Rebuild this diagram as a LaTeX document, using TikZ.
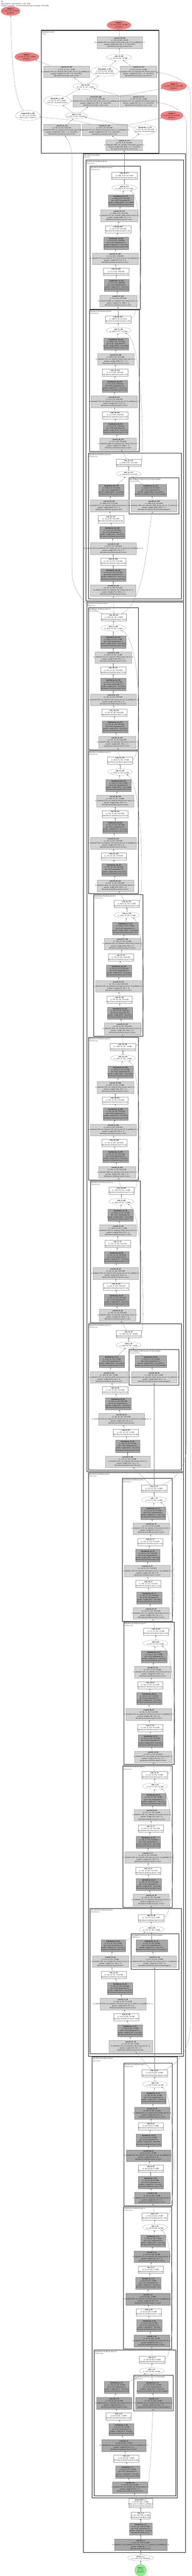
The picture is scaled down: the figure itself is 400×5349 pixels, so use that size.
\documentclass[tikz,border=0pt]{standalone}
\usepackage{fontspec}
\setmainfont{Liberation Serif}
\usetikzlibrary{shapes.geometric,arrows.meta}
\definecolor{cvfill}{HTML}{D3D3D3}
\definecolor{cvdraw}{HTML}{B0B0B0}
\definecolor{bnfill}{HTML}{A9A9A9}
\definecolor{bndraw}{HTML}{8A8A8A}
\definecolor{rldraw}{HTML}{A0A0A0}
\definecolor{edgecol}{HTML}{8A8A8A}
\definecolor{outfill}{HTML}{F08080}
\definecolor{outdraw}{HTML}{D06868}
\definecolor{infill}{HTML}{90EE90}
\definecolor{indraw}{HTML}{60B060}
\definecolor{subcol}{HTML}{505050}
\newcommand\fs{\fontsize{3.6pt}{4.33pt}\selectfont}
\newcommand\T[1]{\makebox[0pt]{\begin{tabular}{@{}c@{}}#1\end{tabular}}}
\newcommand\bb{dim.detector.backbone.}
\newcommand\nk{dim.detector.neck.}
\newcommand\ZA{(1, 2048, 8, 8): 512.0 KB}
\newcommand\ZB{(1, 512, 8, 8): 128.0 KB}
\newcommand\ZC{(1, 512, 16, 16): 512.0 KB}
\newcommand\ZD{(1, 1024, 16, 16): 1.0 MB}
\newcommand\ZE{(1, 256, 16, 16): 256.0 KB}
\newcommand\ZF{(1, 256, 32, 32): 1.0 MB}
\newcommand\ZG{(1, 512, 32, 32): 2.0 MB}
\newcommand\ZH{(1, 128, 32, 32): 512.0 KB}
\newcommand\ZI{(1, 128, 64, 64): 2.0 MB}
\newcommand\ZJ{(1, 256, 64, 64): 4.0 MB}
\newcommand\ZK{(1, 64, 64, 64): 1.0 MB}
\newcommand\ZL{(1, 64, 128, 128): 4.0 MB}
\newcommand\ZM{(1, 256, 8, 8): 64.0 KB}
\newcommand\ZN{(1, 256, 4, 4): 16.0 KB}
\newcommand\KA[2]{in\_channels=#1, out\_channels=#2, kernel\_size=(1, 1)}
\newcommand\KB[2]{in\_channels=#1, out\_channels=#2, kernel\_size=(3, 3), padding=(1, 1)}
\newcommand\KC[2]{in\_channels=#1, out\_channels=#2, kernel\_size=(3, 3), stride=(2, 2), padding=(1, 1)}
\newcommand\KD[2]{in\_channels=#1, out\_channels=#2, kernel\_size=(1, 1), stride=(2, 2)}
\newcommand\CV[9]{\node[cvs,minimum width=#4pt] (#1) at (#2,#3) {\T{\textbf{#5}\\#6\\#7\\params: weight #8\\#9}};}
\newcommand\BN[8]{\node[bnbox,minimum width=#4pt] (#1) at (#2,#3) {\T{\textbf{#5}\\#6\\eps=1e-05, momentum=0.1\\params: weight (#7,) · bias (#7,)\\#8}};}
\newcommand\RL[6]{\node[relubox] (#1) at (#2,#3) {\T{\textbf{#4}\\#5\\#6}};}
\newcommand\AD[5]{\node[addell] (#1) at (#2,#3) {\T{\textbf{#4}\\#5}};}
\newcommand\CL[8]{\draw[#2] (#3,#4) rectangle (#5,#6); \node[cllab] (#1) at (#3,#4) {\begin{tabular}{@{}l@{}}#7\\\textcolor{subcol}{(#8)}\end{tabular}};}
\newcommand\CH[1]{\draw[edge] (#1c1)--(#1b1); \draw[edge] (#1b1)--(#1r1); \draw[edge] (#1r1)--(#1c2); \draw[edge] (#1c2)--(#1b2); \draw[edge] (#1b2)--(#1r2); \draw[edge] (#1r2)--(#1c3); \draw[edge] (#1c3)--(#1b3); \draw[edge] (#1b3)--(#1ad); \draw[edge] (#1ad)--(#1o);}
\newcommand\SK[5]{\draw[edge] (#1) .. controls (#3,#4) and (#3,#5) .. (#2);}
\tikzset{
  nb/.style={rectangle,inner sep=0pt,line width=0.4pt},
  cvl/.style={nb,fill=cvfill,draw=cvdraw,minimum height=24pt},
  cvd/.style={nb,fill=bnfill,draw=bndraw,minimum height=24pt},
  cvs/.style={cvl},
  bnbox/.style={nb,fill=bnfill,draw=bndraw,minimum height=25pt},
  relubox/.style={nb,fill=white,draw=rldraw,minimum width=53pt,minimum height=15pt},
  addell/.style={ellipse,inner sep=0pt,line width=0.4pt,fill=white,draw=rldraw,minimum width=52pt,minimum height=13pt},
  outell/.style={ellipse,inner sep=0pt,line width=0.4pt,fill=outfill,draw=outdraw},
  edge/.style={draw=edgecol,line width=0.35pt,-{Stealth[length=2.5pt,width=2pt,color=black!70]}},
  clA/.style={draw=black!85,line width=1.3pt},
  clB/.style={draw=black!85,line width=1.0pt},
  clC/.style={draw=black!85,line width=0.75pt},
  clD/.style={draw=black!80,line width=0.6pt},
  cllab/.style={anchor=north west,inner sep=1.2pt,font=\fs},
}
\begin{document}
\begin{tikzpicture}[x=1pt,y=-1pt,every node/.style={font=\fs}]
\fill[white] (0,0) rectangle (400,5349);
\useasboundingbox (0,0) rectangle (400,5349);
\node[anchor=north west,inner sep=0pt] (hdr) at (3,1.5) {\begin{tabular}{@{}l@{}}\textbf{fx}\\dim\_detector: torch.Size([1, 3, 256, 256])\\26,843,712 params · 12.3 GFLOPs (forward, eval mode, 192.4 MB)\end{tabular}};
% ---------- clusters ----------
\CL{clN}{clA}{86}{63}{331}{318}{dim.detector.neck}{FPN}
\CL{clBB}{clA}{174}{319}{387}{5300}{dim.detector.backbone}{ResNet}
\CL{clL4}{clB}{179}{332}{382}{1248}{dim.detector.backbone.layer4}{ResLayer}
\CL{clLxlii}{clC}{188}{345}{292}{642}{dim.detector.backbone.layer4.2}{Bottleneck}
\CL{clLxli}{clC}{186}{643.5}{290}{938}{dim.detector.backbone.layer4.1}{Bottleneck}
\CL{clLxl}{clC}{184}{941}{378}{1243}{dim.detector.backbone.layer4.0}{Bottleneck}
\CL{clLxld}{clD}{269}{992}{373}{1067}{dim.detector.backbone.layer4.0.downsample}{Sequential}
\CL{clL3}{clB}{181}{1249.5}{382}{3056}{dim.detector.backbone.layer3}{ResLayer}
\CL{clLxxxv}{clC}{184}{1262}{288}{1557}{dim.detector.backbone.layer3.5}{Bottleneck}
\CL{clLxxxiv}{clC}{184}{1559}{288}{1855}{dim.detector.backbone.layer3.4}{Bottleneck}
\CL{clLxxxiii}{clC}{195}{1857}{298}{2152}{dim.detector.backbone.layer3.3}{Bottleneck}
\CL{clLxxxii}{clC}{184}{2154}{288}{2450}{dim.detector.backbone.layer3.2}{Bottleneck}
\CL{clLxxxi}{clC}{189}{2452}{292}{2747}{dim.detector.backbone.layer3.1}{Bottleneck}
\CL{clLxxx}{clC}{184}{2749}{378}{3052}{dim.detector.backbone.layer3.0}{Bottleneck}
\CL{clLxxxd}{clD}{269}{2802}{373}{2876}{dim.detector.backbone.layer3.0.downsample}{Sequential}
\CL{clL2}{clB}{184}{3058}{382}{4270}{dim.detector.backbone.layer2}{ResLayer}
\CL{clLxxiii}{clC}{255}{3070}{359}{3367}{dim.detector.backbone.layer2.3}{Bottleneck}
\CL{clLxxii}{clC}{258}{3368.5}{363}{3663}{dim.detector.backbone.layer2.2}{Bottleneck}
\CL{clLxxi}{clC}{256}{3666}{359}{3961}{dim.detector.backbone.layer2.1}{Bottleneck}
\CL{clLxx}{clC}{188}{3963}{378}{4265}{dim.detector.backbone.layer2.0}{Bottleneck}
\CL{clLxxd}{clD}{273}{4015}{373}{4089}{dim.detector.backbone.layer2.0.downsample}{Sequential}
\CL{clL1}{clB}{192}{4271.5}{370}{5187}{dim.detector.backbone.layer1}{ResLayer}
\CL{clLxii}{clC}{258}{4284}{359}{4580}{dim.detector.backbone.layer1.2}{Bottleneck}
\CL{clLxi}{clC}{257}{4582}{358}{4878}{dim.detector.backbone.layer1.1}{Bottleneck}
\CL{clLx}{clC}{196}{4879.5}{366}{5182}{dim.detector.backbone.layer1.0}{Bottleneck}
\CL{clLxd}{clD}{278}{4932}{361}{5006}{dim.detector.backbone.layer1.0.downsample}{Sequential}
% ---------- neck ----------
\node[outell,minimum width=40pt,minimum height=18pt] (opv) at (22,23) {\T{\textbf{output\_5}\\\ZN\\@output 4}};
\node[outell,minimum width=50pt,minimum height=17pt] (opi) at (248,52) {\T{\textbf{output\_1}\\\ZJ\\@output 0}};
\node[outell,minimum width=50pt,minimum height=17pt] (opii) at (56,118) {\T{\textbf{output\_2}\\\ZF\\@output 1}};
\node[outell,minimum width=53pt,minimum height=19pt] (opiii) at (362,179) {\T{\textbf{output\_3}\\\ZE\\@output 2}};
\node[outell,minimum width=47pt,minimum height=19pt] (opiv) at (358,240) {\T{\textbf{output\_4}\\\ZM\\@output 3}};
\CV{cLVIII}{249.5}{88.5}{95}{conv2d\_58\_184}{\ZJ}{\KB{256}{256}}{(256, 256, 3, 3) · bias (256,)}{\nk fpn\_convs.0.conv}
\AD{aXIX}{248}{119}{add\_19\_183}{\ZJ}
\CV{cLIX}{138.5}{149}{95}{conv2d\_59\_185}{\ZF}{\KB{256}{256}}{(256, 256, 3, 3) · bias (256,)}{\nk fpn\_convs.1.conv}
\node[addell,minimum width=57pt,minimum height=21pt] (iIII) at (218,148) {\T{\textbf{interpolate\_3\_182}\\\ZJ\\size=(64, 64), mode=nearest}};
\CV{cLIV}{288.5}{149}{75}{conv2d\_54\_174}{\ZJ}{\KA{256}{256}}{(256, 256, 1, 1) · bias (256,)}{\nk lateral\_convs.0.conv}
\AD{aXVIII}{178}{179}{add\_18\_181}{\ZF}
\node[addell,minimum width=56pt,minimum height=21pt] (iII) at (119,209) {\T{\textbf{interpolate\_2\_180}\\\ZF\\size=(32, 32), mode=nearest}};
\CV{cLX}{199.5}{210}{95}{conv2d\_60\_186}{\ZE}{\KB{256}{256}}{(256, 256, 3, 3) · bias (256,)}{\nk fpn\_convs.2.conv}
\CV{cLV}{289}{210}{76}{conv2d\_55\_175}{\ZF}{\KA{512}{256}}{(256, 512, 1, 1) · bias (256,)}{\nk lateral\_convs.1.conv}
\node[addell,minimum width=51pt,minimum height=21pt] (mpii) at (58,240) {\T{\textbf{maxpool2d\_2\_188}\\\ZN\\kernel\_size=1, stride=2}};
\node[addell,minimum width=46pt,minimum height=13pt] (aXVII) at (159,240) {\T{\textbf{add\_17\_179}\\\ZE}};
\CV{cLVI}{129}{270}{76}{conv2d\_56\_176}{\ZE}{\KA{1024}{256}}{(256, 1024, 1, 1) · bias (256,)}{\nk lateral\_convs.2.conv}
\CV{cLXI}{218}{270}{94}{conv2d\_61\_187}{\ZM}{\KB{256}{256}}{(256, 256, 3, 3) · bias (256,)}{\nk fpn\_convs.3.conv}
\node[addell,minimum width=48pt,minimum height=21pt] (iI) at (302,269) {\T{\textbf{interpolate\_1\_178}\\\ZE\\size=(16, 16), mode=nearest}};
\node[cvl,minimum width=76pt,minimum height=23pt] (cLVII) at (259,301.5) {\T{\textbf{conv2d\_57\_177}\\\ZM\\\KA{2048}{256}\\params: weight (256, 2048, 1, 1) · bias (256,)\\\nk lateral\_convs.3.conv}};
% ---------- layer4.2 ----------
\RL{Lxliio}{259}{365}{relu\_49\_173}{\ZA}{\bb layer4.2.relu}
\AD{Lxliiad}{259}{390}{add\_16\_172}{\ZA}
\BN{Lxliib3}{252}{417}{52}{batchnorm\_53\_171}{\ZA}{2048}{\bb layer4.2.bn3}
\CV{Lxliic3}{248}{448}{77}{conv2d\_53\_170}{\ZA}{\KA{512}{2048}}{(2048, 512, 1, 1)}{\bb layer4.2.conv3}
\RL{Lxliir2}{246}{476}{relu\_48\_169}{\ZB}{\bb layer4.2.relu}
\BN{Lxliib2}{242}{505}{52}{batchnorm\_52\_168}{\ZB}{512}{\bb layer4.2.bn2}
\CV{Lxliic2}{240}{537}{95}{conv2d\_52\_167}{\ZB}{\KB{512}{512}}{(512, 512, 3, 3)}{\bb layer4.2.conv2}
\RL{Lxliir1}{242}{564}{relu\_47\_166}{\ZB}{\bb layer4.2.relu}
\BN{Lxliib1}{243}{592}{52}{batchnorm\_51\_165}{\ZB}{512}{\bb layer4.2.bn1}
\CV{Lxliic1}{246}{625}{77}{conv2d\_51\_164}{\ZB}{\KA{2048}{512}}{(512, 2048, 1, 1)}{\bb layer4.2.conv1}
% ---------- layer4.1 ----------
\RL{Lxlio}{246}{663}{relu\_46\_163}{\ZA}{\bb layer4.1.relu}
\AD{Lxliad}{247}{686}{add\_15\_162}{\ZA}
\BN{Lxlib3}{242}{714}{52}{batchnorm\_50\_161}{\ZA}{2048}{\bb layer4.1.bn3}
\CV{Lxlic3}{241}{746}{76}{conv2d\_50\_160}{\ZA}{\KA{512}{2048}}{(2048, 512, 1, 1)}{\bb layer4.1.conv3}
\RL{Lxlir2}{240}{774}{relu\_45\_159}{\ZB}{\bb layer4.1.relu}
\BN{Lxlib2}{239}{802}{52}{batchnorm\_49\_158}{\ZB}{512}{\bb layer4.1.bn2}
\CV{Lxlic2}{238}{834}{96}{conv2d\_49\_157}{\ZB}{\KB{512}{512}}{(512, 512, 3, 3)}{\bb layer4.1.conv2}
\RL{Lxlir1}{240}{862}{relu\_44\_156}{\ZB}{\bb layer4.1.relu}
\BN{Lxlib1}{241}{890}{52}{batchnorm\_48\_155}{\ZB}{512}{\bb layer4.1.bn1}
\CV{Lxlic1}{246}{922}{76}{conv2d\_48\_154}{\ZB}{\KA{2048}{512}}{(512, 2048, 1, 1)}{\bb layer4.1.conv1}
% ---------- layer4.0 ----------
\RL{Lxlo}{268}{961}{relu\_43\_153}{\ZA}{\bb layer4.0.relu}
\AD{Lxlad}{268}{984}{add\_14\_152}{\ZA}
\BN{Lxlb3}{232}{1018}{53}{batchnorm\_46\_149}{\ZA}{2048}{\bb layer4.0.bn3}
\BN{Lxldb}{314}{1018}{65}{batchnorm\_47\_151}{\ZA}{2048}{\bb layer4.0.downsample.1}
\CV{Lxlc3}{227}{1050}{77}{conv2d\_46\_148}{\ZA}{\KA{512}{2048}}{(2048, 512, 1, 1)}{\bb layer4.0.conv3}
\CV{Lxldc}{321}{1050}{95}{conv2d\_47\_150}{\ZA}{\KD{1024}{2048}}{(2048, 1024, 1, 1)}{\bb layer4.0.downsample.0}
\RL{Lxlr2}{231}{1078}{relu\_42\_147}{\ZB}{\bb layer4.0.relu}
\BN{Lxlb2}{234}{1106}{53}{batchnorm\_45\_146}{\ZB}{512}{\bb layer4.0.bn2}
\CV{Lxlc2}{236}{1139}{95}{conv2d\_45\_145}{\ZB}{\KC{512}{512}}{(512, 512, 3, 3)}{\bb layer4.0.conv2}
\RL{Lxlr1}{236}{1166}{relu\_41\_144}{\ZC}{\bb layer4.0.relu}
\BN{Lxlb1}{236}{1194}{52}{batchnorm\_44\_143}{\ZC}{512}{\bb layer4.0.bn1}
\CV{Lxlc1}{236}{1226}{94}{conv2d\_44\_142}{\ZC}{\KA{1024}{512}}{(512, 1024, 1, 1)}{\bb layer4.0.conv1}
% ---------- layer3.5 ----------
\RL{Lxxxvo}{237}{1282}{relu\_40\_141}{\ZD}{\bb layer3.5.relu}
\AD{Lxxxvad}{236}{1304}{add\_13\_140}{\ZD}
\BN{Lxxxvb3}{236}{1333}{53}{batchnorm\_43\_139}{\ZD}{1024}{\bb layer3.5.bn3}
\CV{Lxxxvc3}{236}{1365}{76}{conv2d\_43\_138}{\ZD}{\KA{256}{1024}}{(1024, 256, 1, 1)}{\bb layer3.5.conv3}
\RL{Lxxxvr2}{236}{1392}{relu\_39\_137}{\ZE}{\bb layer3.5.relu}
\BN{Lxxxvb2}{236}{1421}{52}{batchnorm\_42\_136}{\ZE}{256}{\bb layer3.5.bn2}
\CV{Lxxxvc2}{236}{1453}{95}{conv2d\_42\_135}{\ZE}{\KB{256}{256}}{(256, 256, 3, 3)}{\bb layer3.5.conv2}
\RL{Lxxxvr1}{238}{1480}{relu\_38\_134}{\ZE}{\bb layer3.5.relu}
\BN{Lxxxvb1}{240}{1509}{53}{batchnorm\_41\_133}{\ZE}{256}{\bb layer3.5.bn1}
\CV{Lxxxvc1}{244}{1541}{77}{conv2d\_41\_132}{\ZE}{\KA{1024}{256}}{(256, 1024, 1, 1)}{\bb layer3.5.conv1}
% ---------- layer3.4 ----------
\RL{Lxxxivo}{250}{1579}{relu\_37\_131}{\ZD}{\bb layer3.4.relu}
\AD{Lxxxivad}{250}{1603}{add\_12\_130}{\ZD}
\BN{Lxxxivb3}{247}{1631}{52}{batchnorm\_40\_129}{\ZD}{1024}{\bb layer3.4.bn3}
\CV{Lxxxivc3}{240}{1663}{77}{conv2d\_40\_128}{\ZD}{\KA{256}{1024}}{(1024, 256, 1, 1)}{\bb layer3.4.conv3}
\RL{Lxxxivr2}{240}{1690}{relu\_36\_127}{\ZE}{\bb layer3.4.relu}
\BN{Lxxxivb2}{240}{1718}{52}{batchnorm\_39\_126}{\ZE}{256}{\bb layer3.4.bn2}
\CV{Lxxxivc2}{236}{1751}{95}{conv2d\_39\_125}{\ZE}{\KB{256}{256}}{(256, 256, 3, 3)}{\bb layer3.4.conv2}
\RL{Lxxxivr1}{237}{1778}{relu\_35\_124}{\ZE}{\bb layer3.4.relu}
\BN{Lxxxivb1}{238}{1806}{52}{batchnorm\_38\_123}{\ZE}{256}{\bb layer3.4.bn1}
\CV{Lxxxivc1}{240}{1839}{76}{conv2d\_38\_122}{\ZE}{\KA{1024}{256}}{(256, 1024, 1, 1)}{\bb layer3.4.conv1}
% ---------- layer3.3 ----------
\RL{Lxxxiiio}{264}{1877}{relu\_34\_121}{\ZD}{\bb layer3.3.relu}
\AD{Lxxxiiiad}{264}{1900}{add\_11\_120}{\ZD}
\BN{Lxxxiiib3}{261}{1928}{53}{batchnorm\_37\_119}{\ZD}{1024}{\bb layer3.3.bn3}
\CV{Lxxxiiic3}{255}{1960}{76}{conv2d\_37\_118}{\ZD}{\KA{256}{1024}}{(1024, 256, 1, 1)}{\bb layer3.3.conv3}
\RL{Lxxxiiir2}{252}{1988}{relu\_33\_117}{\ZE}{\bb layer3.3.relu}
\BN{Lxxxiiib2}{248}{2016}{52}{batchnorm\_36\_116}{\ZE}{256}{\bb layer3.3.bn2}
\CV{Lxxxiiic2}{247}{2048}{95}{conv2d\_36\_115}{\ZE}{\KB{256}{256}}{(256, 256, 3, 3)}{\bb layer3.3.conv2}
\RL{Lxxxiiir1}{249}{2076}{relu\_32\_114}{\ZE}{\bb layer3.3.relu}
\BN{Lxxxiiib1}{250}{2104}{52}{batchnorm\_35\_113}{\ZE}{256}{\bb layer3.3.bn1}
\CV{Lxxxiiic1}{255}{2136}{76}{conv2d\_35\_112}{\ZE}{\KA{1024}{256}}{(256, 1024, 1, 1)}{\bb layer3.3.conv1}
% ---------- layer3.2 ----------
\RL{Lxxxiio}{256}{2174}{relu\_31\_111}{\ZD}{\bb layer3.2.relu}
\AD{Lxxxiiad}{256}{2197}{add\_10\_110}{\ZD}
\BN{Lxxxiib3}{251}{2226}{53}{batchnorm\_34\_109}{\ZD}{1024}{\bb layer3.2.bn3}
\CV{Lxxxiic3}{240}{2258}{76}{conv2d\_34\_108}{\ZD}{\KA{256}{1024}}{(1024, 256, 1, 1)}{\bb layer3.2.conv3}
\RL{Lxxxiir2}{240}{2285}{relu\_30\_107}{\ZE}{\bb layer3.2.relu}
\BN{Lxxxiib2}{241}{2313}{52}{batchnorm\_33\_106}{\ZE}{256}{\bb layer3.2.bn2}
\CV{Lxxxiic2}{236}{2346}{95}{conv2d\_33\_105}{\ZE}{\KB{256}{256}}{(256, 256, 3, 3)}{\bb layer3.2.conv2}
\RL{Lxxxiir1}{238}{2373}{relu\_29\_104}{\ZE}{\bb layer3.2.relu}
\BN{Lxxxiib1}{241}{2401}{53}{batchnorm\_32\_103}{\ZE}{256}{\bb layer3.2.bn1}
\CV{Lxxxiic1}{244}{2434}{77}{conv2d\_32\_102}{\ZE}{\KA{1024}{256}}{(256, 1024, 1, 1)}{\bb layer3.2.conv1}
% ---------- layer3.1 ----------
\RL{Lxxxio}{253}{2472}{relu\_28\_101}{\ZD}{\bb layer3.1.relu}
\AD{Lxxxiad}{253}{2495}{add\_9\_100}{\ZD}
\BN{Lxxxib3}{251}{2523}{53}{batchnorm\_31\_99}{\ZD}{1024}{\bb layer3.1.bn3}
\CV{Lxxxic3}{246}{2555}{76}{conv2d\_31\_98}{\ZD}{\KA{256}{1024}}{(1024, 256, 1, 1)}{\bb layer3.1.conv3}
\RL{Lxxxir2}{245}{2583}{relu\_27\_97}{\ZE}{\bb layer3.1.relu}
\BN{Lxxxib2}{243}{2611}{52}{batchnorm\_30\_96}{\ZE}{256}{\bb layer3.1.bn2}
\CV{Lxxxic2}{241}{2644}{95}{conv2d\_30\_95}{\ZE}{\KB{256}{256}}{(256, 256, 3, 3)}{\bb layer3.1.conv2}
\RL{Lxxxir1}{242}{2671}{relu\_26\_94}{\ZE}{\bb layer3.1.relu}
\BN{Lxxxib1}{243}{2700}{52}{batchnorm\_29\_93}{\ZE}{256}{\bb layer3.1.bn1}
\CV{Lxxxic1}{245}{2731}{76}{conv2d\_29\_92}{\ZE}{\KA{1024}{256}}{(256, 1024, 1, 1)}{\bb layer3.1.conv1}
% ---------- layer3.0 ----------
\RL{Lxxxo}{268}{2770}{relu\_25\_91}{\ZD}{\bb layer3.0.relu}
\AD{Lxxxad}{268}{2793}{add\_8\_90}{\ZD}
\BN{Lxxxb3}{233}{2827}{52}{batchnorm\_27\_87}{\ZD}{1024}{\bb layer3.0.bn3}
\BN{Lxxxdb}{314}{2827}{65}{batchnorm\_28\_89}{\ZD}{1024}{\bb layer3.0.downsample.1}
\CV{Lxxxc3}{227}{2860}{77}{conv2d\_27\_86}{\ZD}{\KA{256}{1024}}{(1024, 256, 1, 1)}{\bb layer3.0.conv3}
\CV{Lxxxdc}{321}{2860}{94}{conv2d\_28\_88}{\ZD}{\KD{512}{1024}}{(1024, 512, 1, 1)}{\bb layer3.0.downsample.0}
\RL{Lxxxr2}{240}{2887}{relu\_24\_85}{\ZE}{\bb layer3.0.relu}
\BN{Lxxxb2}{246}{2915}{53}{batchnorm\_26\_84}{\ZE}{256}{\bb layer3.0.bn2}
\CV{Lxxxc2}{253}{2947}{95}{conv2d\_26\_83}{\ZE}{\KC{256}{256}}{(256, 256, 3, 3)}{\bb layer3.0.conv2}
\RL{Lxxxr1}{262}{2975}{relu\_23\_82}{\ZF}{\bb layer3.0.relu}
\BN{Lxxxb1}{266}{3003}{51}{batchnorm\_25\_81}{\ZF}{256}{\bb layer3.0.bn1}
\CV{Lxxxc1}{266}{3035}{93}{conv2d\_25\_80}{\ZF}{\KA{512}{256}}{(256, 512, 1, 1)}{\bb layer3.0.conv1}
% ---------- layer2.3 ----------
\RL{Lxxiiio}{321}{3091}{relu\_22\_79}{\ZG}{\bb layer2.3.relu}
\AD{Lxxiiiad}{321}{3114}{add\_7\_78}{\ZG}
\BN{Lxxiiib3}{319}{3142}{52}{batchnorm\_24\_77}{\ZG}{512}{\bb layer2.3.bn3}
\CV{Lxxiiic3}{315}{3174}{75}{conv2d\_24\_76}{\ZG}{\KA{128}{512}}{(512, 128, 1, 1)}{\bb layer2.3.conv3}
\RL{Lxxiiir2}{313}{3202}{relu\_21\_75}{\ZH}{\bb layer2.3.relu}
\BN{Lxxiiib2}{308}{3230}{50}{batchnorm\_23\_74}{\ZH}{128}{\bb layer2.3.bn2}
\CV{Lxxiiic2}{307}{3262}{95}{conv2d\_23\_73}{\ZH}{\KB{128}{128}}{(128, 128, 3, 3)}{\bb layer2.3.conv2}
\RL{Lxxiiir1}{309}{3289}{relu\_20\_72}{\ZH}{\bb layer2.3.relu}
\BN{Lxxiiib1}{311}{3318}{53}{batchnorm\_22\_71}{\ZH}{128}{\bb layer2.3.bn1}
\CV{Lxxiiic1}{315}{3350}{75}{conv2d\_22\_70}{\ZH}{\KA{512}{128}}{(128, 512, 1, 1)}{\bb layer2.3.conv1}
% ---------- layer2.2 ----------
\RL{Lxxiio}{325}{3388}{relu\_19\_69}{\ZG}{\bb layer2.2.relu}
\AD{Lxxiiad}{324}{3412}{add\_6\_68}{\ZG}
\BN{Lxxiib3}{321}{3440}{53}{batchnorm\_21\_67}{\ZG}{512}{\bb layer2.2.bn3}
\CV{Lxxiic3}{318}{3472}{75}{conv2d\_21\_66}{\ZG}{\KA{128}{512}}{(512, 128, 1, 1)}{\bb layer2.2.conv3}
\RL{Lxxiir2}{313}{3499}{relu\_18\_65}{\ZH}{\bb layer2.2.relu}
\BN{Lxxiib2}{311}{3527}{53}{batchnorm\_20\_64}{\ZH}{128}{\bb layer2.2.bn2}
\CV{Lxxiic2}{310}{3560}{95}{conv2d\_20\_63}{\ZH}{\KB{128}{128}}{(128, 128, 3, 3)}{\bb layer2.2.conv2}
\RL{Lxxiir1}{313}{3588}{relu\_17\_62}{\ZH}{\bb layer2.2.relu}
\BN{Lxxiib1}{314}{3615}{51}{batchnorm\_19\_61}{\ZH}{128}{\bb layer2.2.bn1}
\CV{Lxxiic1}{319}{3648}{76}{conv2d\_19\_60}{\ZH}{\KA{512}{128}}{(128, 512, 1, 1)}{\bb layer2.2.conv1}
% ---------- layer2.1 ----------
\RL{Lxxio}{322}{3686}{relu\_16\_59}{\ZG}{\bb layer2.1.relu}
\AD{Lxxiad}{323}{3709}{add\_5\_58}{\ZG}
\BN{Lxxib3}{320}{3737}{51}{batchnorm\_18\_57}{\ZG}{512}{\bb layer2.1.bn3}
\CV{Lxxic3}{316}{3769}{74}{conv2d\_18\_56}{\ZG}{\KA{128}{512}}{(512, 128, 1, 1)}{\bb layer2.1.conv3}
\RL{Lxxir2}{314}{3797}{relu\_15\_55}{\ZH}{\bb layer2.1.relu}
\BN{Lxxib2}{309}{3825}{51}{batchnorm\_17\_54}{\ZH}{128}{\bb layer2.1.bn2}
\CV{Lxxic2}{308}{3857}{95}{conv2d\_17\_53}{\ZH}{\KB{128}{128}}{(128, 128, 3, 3)}{\bb layer2.1.conv2}
\RL{Lxxir1}{309}{3885}{relu\_14\_52}{\ZH}{\bb layer2.1.relu}
\BN{Lxxib1}{310}{3913}{52}{batchnorm\_16\_51}{\ZH}{128}{\bb layer2.1.bn1}
\CV{Lxxic1}{315}{3945}{75}{conv2d\_16\_50}{\ZH}{\KA{512}{128}}{(128, 512, 1, 1)}{\bb layer2.1.conv1}
% ---------- layer2.0 ----------
\RL{Lxxo}{315}{3983}{relu\_13\_49}{\ZG}{\bb layer2.0.relu}
\AD{Lxxad}{316}{4006}{add\_4\_48}{\ZG}
\BN{Lxxb3}{236}{4040}{51}{batchnorm\_14\_45}{\ZG}{512}{\bb layer2.0.bn3}
\BN{Lxxdb}{316}{4040}{65}{batchnorm\_15\_47}{\ZG}{512}{\bb layer2.0.downsample.1}
\CV{Lxxc3}{230}{4073}{75}{conv2d\_14\_44}{\ZG}{\KA{128}{512}}{(512, 128, 1, 1)}{\bb layer2.0.conv3}
\CV{Lxxdc}{322}{4073}{91}{conv2d\_15\_46}{\ZG}{\KD{256}{512}}{(512, 256, 1, 1)}{\bb layer2.0.downsample.0}
\RL{Lxxr2}{237}{4101}{relu\_12\_43}{\ZH}{\bb layer2.0.relu}
\BN{Lxxb2}{250}{4129}{53}{batchnorm\_13\_42}{\ZH}{128}{\bb layer2.0.bn2}
\CV{Lxxc2}{256}{4161}{95}{conv2d\_13\_41}{\ZH}{\KC{128}{128}}{(128, 128, 3, 3)}{\bb layer2.0.conv2}
\RL{Lxxr1}{263}{4188}{relu\_11\_40}{\ZI}{\bb layer2.0.relu}
\BN{Lxxb1}{271}{4217}{51}{batchnorm\_12\_39}{\ZI}{128}{\bb layer2.0.bn1}
\CV{Lxxc1}{272}{4249}{91}{conv2d\_12\_38}{\ZI}{\KA{256}{128}}{(128, 256, 1, 1)}{\bb layer2.0.conv1}
% ---------- layer1 (frozen, dark convs) ----------
\tikzset{cvs/.style={cvd}}
\RL{Lxiio}{322}{4305}{relu\_10\_37}{\ZJ}{\bb layer1.2.relu}
\AD{Lxiiad}{323}{4328}{add\_3\_36}{\ZJ}
\BN{Lxiib3}{320}{4356}{52}{batchnorm\_11\_35}{\ZJ}{256}{\bb layer1.2.bn3}
\CV{Lxiic3}{317}{4388}{73}{conv2d\_11\_34}{\ZJ}{\KA{64}{256}}{(256, 64, 1, 1)}{\bb layer1.2.conv3}
\RL{Lxiir2}{314}{4415}{relu\_9\_33}{\ZK}{\bb layer1.2.relu}
\BN{Lxiib2}{310}{4444}{52}{batchnorm\_10\_32}{\ZK}{64}{\bb layer1.2.bn2}
\CV{Lxiic2}{309}{4476}{92}{conv2d\_10\_31}{\ZK}{\KB{64}{64}}{(64, 64, 3, 3)}{\bb layer1.2.conv2}
\RL{Lxiir1}{314}{4503}{relu\_8\_30}{\ZK}{\bb layer1.2.relu}
\BN{Lxiib1}{314}{4532}{53}{batchnorm\_9\_29}{\ZK}{64}{\bb layer1.2.bn1}
\CV{Lxiic1}{317}{4564}{74}{conv2d\_9\_28}{\ZK}{\KA{256}{64}}{(64, 256, 1, 1)}{\bb layer1.2.conv1}
\RL{Lxio}{322}{4602}{relu\_7\_27}{\ZJ}{\bb layer1.1.relu}
\AD{Lxiad}{323}{4625}{add\_2\_26}{\ZJ}
\BN{Lxib3}{319}{4653}{52}{batchnorm\_8\_25}{\ZJ}{256}{\bb layer1.1.bn3}
\CV{Lxic3}{316}{4686}{74}{conv2d\_8\_24}{\ZJ}{\KA{64}{256}}{(256, 64, 1, 1)}{\bb layer1.1.conv3}
\RL{Lxir2}{314}{4713}{relu\_6\_23}{\ZK}{\bb layer1.1.relu}
\BN{Lxib2}{309}{4741}{52}{batchnorm\_7\_22}{\ZK}{64}{\bb layer1.1.bn2}
\CV{Lxic2}{308}{4774}{92}{conv2d\_7\_21}{\ZK}{\KB{64}{64}}{(64, 64, 3, 3)}{\bb layer1.1.conv2}
\RL{Lxir1}{310}{4801}{relu\_5\_20}{\ZK}{\bb layer1.1.relu}
\BN{Lxib1}{311}{4829}{52}{batchnorm\_6\_19}{\ZK}{64}{\bb layer1.1.bn1}
\CV{Lxic1}{316}{4861}{74}{conv2d\_6\_18}{\ZK}{\KA{256}{64}}{(64, 256, 1, 1)}{\bb layer1.1.conv1}
\RL{Lxo}{317}{4900}{relu\_4\_17}{\ZJ}{\bb layer1.0.relu}
\AD{Lxad}{316}{4923}{add\_1\_16}{\ZJ}
\BN{Lxb3}{243}{4957}{51}{batchnorm\_4\_13}{\ZJ}{256}{\bb layer1.0.bn3}
\BN{Lxdb}{318}{4957}{65}{batchnorm\_5\_15}{\ZJ}{256}{\bb layer1.0.downsample.1}
\CV{Lxc3}{238}{4990}{73}{conv2d\_4\_12}{\ZJ}{\KA{64}{256}}{(256, 64, 1, 1)}{\bb layer1.0.conv3}
\CV{Lxdc}{320}{4990}{74}{conv2d\_5\_14}{\ZJ}{\KA{64}{256}}{(256, 64, 1, 1)}{\bb layer1.0.downsample.0}
\RL{Lxr2}{247}{5017}{relu\_3\_11}{\ZK}{\bb layer1.0.relu}
\BN{Lxb2}{253}{5045}{51}{batchnorm\_3\_10}{\ZK}{64}{\bb layer1.0.bn2}
\CV{Lxc2}{258}{5078}{92}{conv2d\_3\_9}{\ZK}{\KB{64}{64}}{(64, 64, 3, 3)}{\bb layer1.0.conv2}
\RL{Lxr1}{263}{5105}{relu\_2\_8}{\ZK}{\bb layer1.0.relu}
\BN{Lxb1}{266}{5133}{51}{batchnorm\_2\_7}{\ZK}{64}{\bb layer1.0.bn1}
\CV{Lxc1}{271}{5165}{72}{conv2d\_2\_6}{\ZK}{\KA{64}{64}}{(64, 64, 1, 1)}{\bb layer1.0.conv1}
% ---------- stem ----------
\node[relubox,minimum width=49pt,minimum height=19pt] (stM) at (293,5197.5) {\T{\textbf{maxpool2d\_1\_5}\\\ZK\\kernel\_size=3, stride=2, padding=1\\\bb maxpool}};
\node[relubox,minimum width=39pt,minimum height=14pt] (stR) at (293,5223) {\T{\textbf{relu\_1\_4}\\\ZL\\\bb relu}};
\BN{stB}{293}{5251}{47}{batchnorm\_1\_3}{\ZL}{64}{\bb bn1}
\CV{stC}{293}{5284}{109}{conv2d\_1\_2}{\ZL}{in\_channels=3, out\_channels=64, kernel\_size=(7, 7), stride=(2, 2), padding=(3, 3)}{(64, 3, 7, 7)}{\bb conv1}
\node[addell,minimum width=54pt,minimum height=12pt] (tin) at (293,5311) {\T{\textbf{tensor\_1\_1}\\(1, 3, 256, 256): 768.0 KB}};
\node[circle,fill=infill,draw=indraw,line width=0.4pt,minimum size=24pt,inner sep=0pt] (inp) at (293,5337) {\T{\textbf{input\_1}\\(1, 3, 0)\\@input 0}};
% ---------- edges: stem ----------
\draw[edge] (inp)--(tin);
\draw[edge] (tin)--(stC);
\draw[edge] (stC)--(stB);
\draw[edge] (stB)--(stR);
\draw[edge] (stR)--(stM);
% ---------- edges: blocks ----------
\draw[edge] (stM)--(Lxc1);
\draw[edge] (stM) .. controls (315,5170) and (316,5040) .. (Lxdc);
\draw[edge] (Lxdc)--(Lxdb); \draw[edge] (Lxdb)--(Lxad);
\CH{Lx}
\draw[edge] (Lxo)--(Lxic1); \SK{Lxo}{Lxiad}{367}{4896}{4645} \CH{Lxi}
\draw[edge] (Lxio)--(Lxiic1); \SK{Lxio}{Lxiiad}{368}{4598}{4348} \CH{Lxii}
\draw[edge] (Lxiio)--(Lxxc1);
\draw[edge] (Lxiio)--(Lxxdc);
\draw[edge] (Lxxdc)--(Lxxdb); \draw[edge] (Lxxdb)--(Lxxad);
\CH{Lxx}
\draw[edge] (Lxxo)--(Lxxic1); \SK{Lxxo}{Lxxiad}{368}{3979}{3729} \CH{Lxxi}
\draw[edge] (Lxxio)--(Lxxiic1); \SK{Lxxio}{Lxxiiad}{371}{3682}{3432} \CH{Lxxii}
\draw[edge] (Lxxiio)--(Lxxiiic1); \SK{Lxxiio}{Lxxiiiad}{368}{3384}{3134} \CH{Lxxiii}
\draw[edge] (Lxxiiio)--(Lxxxc1);
\draw[edge] (Lxxiiio)--(Lxxxdc);
\draw[edge] (Lxxxdc)--(Lxxxdb); \draw[edge] (Lxxxdb)--(Lxxxad);
\CH{Lxxx}
\draw[edge] (Lxxxo)--(Lxxxic1); \SK{Lxxxo}{Lxxxiad}{301}{2766}{2515} \CH{Lxxxi}
\draw[edge] (Lxxxio)--(Lxxxiic1); \SK{Lxxxio}{Lxxxiiad}{297}{2468}{2217} \CH{Lxxxii}
\draw[edge] (Lxxxiio)--(Lxxxiiic1); \SK{Lxxxiio}{Lxxxiiiad}{306}{2170}{1920} \CH{Lxxxiii}
\draw[edge] (Lxxxiiio)--(Lxxxivc1); \SK{Lxxxiiio}{Lxxxivad}{299}{1873}{1623} \CH{Lxxxiv}
\draw[edge] (Lxxxivo)--(Lxxxvc1); \SK{Lxxxivo}{Lxxxvad}{297}{1575}{1324} \CH{Lxxxv}
\draw[edge] (Lxxxvo)--(Lxlc1);
\draw[edge] (Lxxxvo) .. controls (305,1250) and (308,1100) .. (Lxldc);
\draw[edge] (Lxldc)--(Lxldb); \draw[edge] (Lxldb)--(Lxlad);
\CH{Lxl}
\draw[edge] (Lxlo)--(Lxlic1); \SK{Lxlo}{Lxliad}{299}{957}{706} \CH{Lxli}
\draw[edge] (Lxlio)--(Lxliic1); \SK{Lxlio}{Lxliiad}{301}{659}{410} \CH{Lxlii}
% ---------- edges: backbone to neck ----------
\draw[edge] (Lxliio)--(cLVII);
\draw[edge] (Lxxxvo) .. controls (195,1268) and (150,1240) .. (150,1185) -- (150,330) .. controls (150,300) and (140,290) .. (cLVI);
\draw[edge] (Lxxiiio) .. controls (370,3070) and (389,3040) .. (389,3000) -- (389,262) .. controls (389,228) and (350,215) .. (cLV);
\draw[edge] (Lxiio) .. controls (375,4285) and (397,4250) .. (397,4200) -- (397,200) .. controls (397,165) and (350,152) .. (cLIV);
% ---------- edges: neck ----------
\draw[edge] (cLVII)--(cLXI);
\draw[edge] (cLVII)--(iI);
\draw[edge] (iI)--(aXVII);
\draw[edge] (cLVI)--(aXVII);
\draw[edge] (aXVII)--(iII);
\draw[edge] (aXVII)--(cLX);
\draw[edge] (cLX)--(opiii);
\draw[edge] (cLXI) .. controls (290,255) .. (opiv);
\draw[edge] (cLXI) .. controls (170,250) and (110,246) .. (mpii);
\draw[edge] (mpii) .. controls (27,205) and (24,110) .. (opv);
\draw[edge] (iII)--(aXVIII);
\draw[edge] (cLV)--(aXVIII);
\draw[edge] (aXVIII)--(iIII);
\draw[edge] (aXVIII)--(cLIX);
\draw[edge] (cLIX)--(opii);
\draw[edge] (iIII)--(aXIX);
\draw[edge] (cLIV)--(aXIX);
\draw[edge] (aXIX)--(cLVIII);
\draw[edge] (cLVIII)--(opi);
\end{tikzpicture}
\end{document}
